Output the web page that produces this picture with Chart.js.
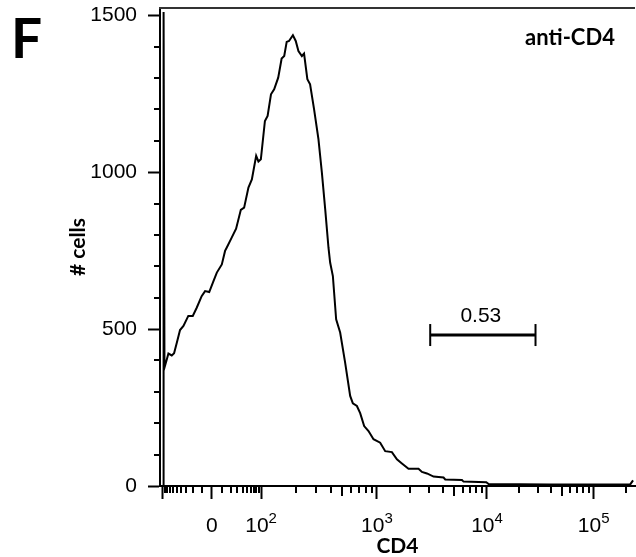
<!DOCTYPE html>
<html>
<head>
<meta charset="utf-8">
<script src="https://cdn.jsdelivr.net/npm/chart.js@4/dist/chart.umd.min.js"></script>
<style>
  html, body { margin: 0; padding: 0; background: #fff; overflow: hidden; }
  #box { width: 636px; height: 557px; position: relative; }
</style>
</head>
<body>
<div id="box"><canvas id="graficoCD4"></canvas></div>
<script>
// histogram (CD4 intensity, # cells)
const cd4Values = [-98, -96, -92, -82, -76, -64.5, -57.5, -50, -42.5, -35.5,
  -27, -20.5, -15.5, -10, -6.5, -2.5, 1.5, 4.7, 9.7, 13.2,
  15.2, 21.6, 28, 36.4, 43.3, 53.9, 63.9, 78.8, 88, 98.8,
  108, 114, 122, 130, 141, 151, 159, 167, 175, 189,
  200, 211, 226, 236, 252, 266, 288, 314, 336, 359,
  383, 396, 418, 446, 483, 533, 589, 621, 673, 718,
  777, 847, 935, 1071, 1190, 1369, 1520, 1688, 1937, 2389,
  2565, 2848, 3270, 4031, 4177, 5924, 6126, 9853, 10350, 39000,
  120000, 220000, 234000];
const cellCounts = [0, 1510, 377, 404, 422, 416, 423, 457, 497, 510,
  542, 542, 568, 605, 621, 618, 653, 680, 706, 749,
  760, 792, 820, 880, 887, 951, 977, 1052, 1034, 1041,
  1163, 1179, 1248, 1264, 1301, 1362, 1370, 1415, 1418, 1436,
  1418, 1386, 1370, 1378, 1296, 1280, 1200, 1105, 999, 882,
  760, 712, 669, 531, 489, 393, 287, 263, 255, 232,
  191, 175, 149, 138, 111, 108, 85, 72, 55, 55,
  45, 40, 30, 27, 21, 19, 14, 12, 6, 5,
  5, 5, 18];

// gate
const gateRange = [3050, 28500];
const gateLevel = 481;
const gateLabel = '0.53';

// ticks
const yMajorTicks = [0, 500, 1000, 1500];
const yMinorTicks = [100, 200, 300, 400, 600, 700, 800, 900, 1100, 1200, 1300, 1400];
const xMajorTicks = [-100, 0, 100, 1000, 10000, 100000];
const xTickLabels = ['', '0', '10', '10', '10', '10'];
const xTickExponents = ['', '', '2', '3', '4', '5'];
const xMinorTicks = [-90, -80, -70, -60, -50, -40, -30, -20, -10,
  10, 20, 30, 40, 50, 60, 70, 80, 90,
  200, 300, 400, 500, 600, 700, 800, 900,
  2000, 3000, 4000, 5000, 6000, 7000, 8000, 9000,
  20000, 30000, 40000, 50000, 60000, 70000, 80000, 90000, 200000];
const xMidTicks = [500, 5000, 50000];

// biexponential axis: asinh near zero, log above, calibrated on the decade marks
const calibValues = [-100, 0, 100, 1000, 10000, 100000];
const calibDecades = [-0.4435, 0, 0.4444, 1.4896, 2.4833, 3.4463];
const calibS = calibValues.map(v => Math.asinh(v / 20));

function toUnits(v) {
    const s = Math.asinh(v / 20);
    let i = 0;
    while (i < calibS.length - 2 && s > calibS[i + 1]) i++;
    const k = (calibDecades[i + 1] - calibDecades[i]) / (calibS[i + 1] - calibS[i]);
    return calibDecades[i] + (s - calibS[i]) * k;
}
function fromUnits(u) {
    let i = 0;
    while (i < calibDecades.length - 2 && u > calibDecades[i + 1]) i++;
    const k = (calibS[i + 1] - calibS[i]) / (calibDecades[i + 1] - calibDecades[i]);
    return 20 * Math.sinh(calibS[i] + (u - calibDecades[i]) * k);
}

class BiexScale extends Chart.LinearScale {
    static id = 'biex';
    static defaults = Chart.LinearScale.defaults;
    buildTicks() {
        return xMajorTicks.map(v => ({ value: v }));
    }
    getPixelForValue(value) {
        const a = toUnits(this.min), b = toUnits(this.max);
        return this.getPixelForDecimal((toUnits(value) - a) / (b - a));
    }
    getValueForPixel(pixel) {
        const a = toUnits(this.min), b = toUnits(this.max);
        return fromUnits(a + this.getDecimalForPixel(pixel) * (b - a));
    }
}
Chart.register(BiexScale);

// minor ticks, superscript labels, frame and annotations
const extras = {
    id: 'extras',
    afterDraw(chart) {
        const { ctx, chartArea: area, scales: { x, y } } = chart;
        ctx.save();
        ctx.lineWidth = 2;
        ctx.strokeStyle = '#333';
        ctx.beginPath();
        ctx.moveTo(area.left - 1, area.top);
        ctx.lineTo(area.right, area.top);
        ctx.stroke();

        ctx.strokeStyle = '#000';
        ctx.beginPath();
        xMinorTicks.forEach(v => {
            const px = Math.round(x.getPixelForValue(v));
            const len = xMidTicks.includes(v) ? 10 : 7;
            ctx.moveTo(px, area.bottom);
            ctx.lineTo(px, area.bottom + len);
        });
        yMinorTicks.forEach(v => {
            const py = Math.round(y.getPixelForValue(v));
            ctx.moveTo(area.left - 6, py);
            ctx.lineTo(area.left, py);
        });
        ctx.stroke();

        ctx.fillStyle = '#000';
        ctx.textBaseline = 'alphabetic';
        ctx.textAlign = 'left';
        const baseFont = '21px "Liberation Sans", Arial, sans-serif';
        const expFont = '15px "Liberation Sans", Arial, sans-serif';
        xMajorTicks.forEach((v, i) => {
            if (!xTickLabels[i]) return;
            const px = x.getPixelForValue(v);
            ctx.font = baseFont;
            const w1 = ctx.measureText(xTickLabels[i]).width;
            ctx.font = expFont;
            const w2 = xTickExponents[i] ? ctx.measureText(xTickExponents[i]).width : 0;
            const x0 = px - (w1 + w2) / 2;
            ctx.font = baseFont;
            ctx.fillText(xTickLabels[i], x0, area.bottom + 46);
            if (w2) {
                ctx.font = expFont;
                ctx.fillText(xTickExponents[i], x0 + w1, area.bottom + 37);
            }
        });

        // gate label
        const gate = chart.getDatasetMeta(1).data;
        ctx.font = '21px "Liberation Sans", Arial, sans-serif';
        ctx.textAlign = 'center';
        ctx.fillText(gateLabel, (gate[0].x + gate[1].x) / 2 - 2, gate[0].y - 13);

        ctx.font = 'bold 22px Lato, sans-serif';
        ctx.fillText('anti-CD4', 570, 45);

        ctx.textAlign = 'left';
        ctx.font = 'bold 55px Lato, sans-serif';
        ctx.fillText('F', 11, 58);
        ctx.restore();
    }
};

const ctxCD4 = document.getElementById('graficoCD4').getContext('2d');
new Chart(ctxCD4, {
    type: 'line',
    data: {
        datasets: [
            {
                data: cd4Values.map((v, i) => ({ x: v, y: cellCounts[i] })),
                borderColor: '#000',
                borderWidth: 2,
                pointRadius: 0,
                tension: 0
            },
            {
                data: gateRange.map(v => ({ x: v, y: gateLevel })),
                borderColor: '#000',
                borderWidth: 3,
                pointStyle: 'line',
                pointRotation: 90,
                pointRadius: 11,
                pointBorderWidth: 2,
                pointBorderColor: '#000'
            }
        ]
    },
    options: {
        responsive: true,
        maintainAspectRatio: false,
        animation: false,
        layout: { autoPadding: false, padding: { left: 67.5, right: 1, top: 8, bottom: 0 } },
        plugins: {
            legend: { display: false },
            tooltip: { enabled: false }
        },
        scales: {
            x: {
                type: 'biex',
                min: -114,
                max: 244000,
                afterFit: s => { s.height = 71; },
                border: { color: '#000', width: 2 },
                grid: { display: true, drawOnChartArea: false, tickLength: 13, tickWidth: 2, tickColor: '#000' },
                ticks: { display: false },
                title: {
                    display: true,
                    text: 'CD4',
                    color: '#000',
                    font: { family: 'Lato', weight: 'bold', size: 21, lineHeight: 1 },
                    padding: { top: 0, bottom: 0.5 }
                }
            },
            y: {
                min: 0,
                max: 1523,
                afterFit: s => { s.width = 92.5; s.paddingTop = 0; s.paddingBottom = 0; },
                afterBuildTicks: s => { s.ticks = yMajorTicks.map(v => ({ value: v })); },
                border: { color: '#000', width: 2 },
                grid: { display: true, drawOnChartArea: false, tickLength: 12, tickWidth: 2, tickColor: '#000' },
                ticks: {
                    color: '#000',
                    padding: 11,
                    callback: v => String(v),
                    font: { family: 'Liberation Sans', size: 21, lineHeight: 0.7 }
                },
                title: {
                    display: true,
                    text: '# cells',
                    color: '#000',
                    font: { family: 'Lato', weight: 'bold', size: 21, lineHeight: 1 },
                    padding: { top: 0, bottom: 0 }
                }
            }
        }
    },
    plugins: [extras]
});
</script>
</body>
</html>
